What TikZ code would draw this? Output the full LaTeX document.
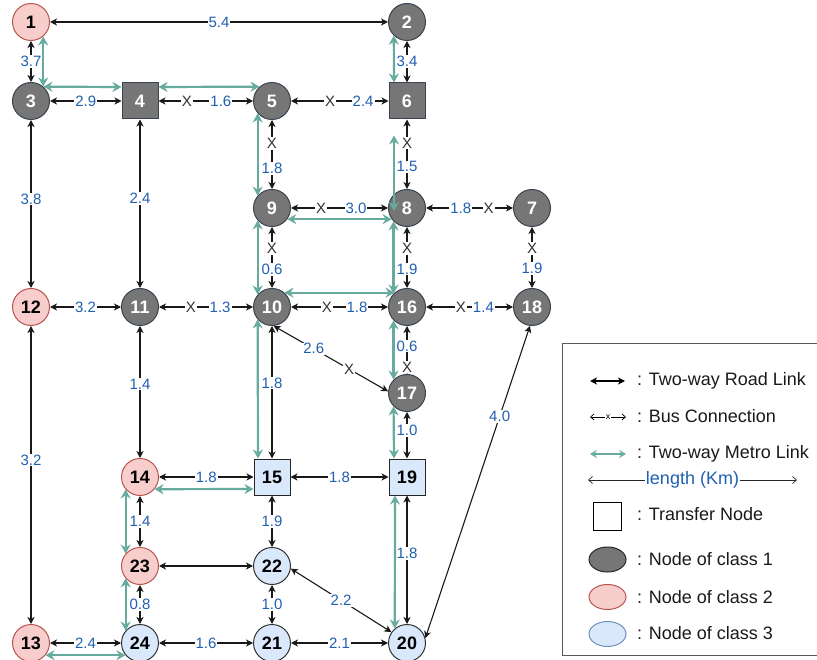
\documentclass[tikz,border=0pt]{standalone}
\usepackage{fontspec}
\setmainfont{Liberation Sans}
\usetikzlibrary{arrows.meta,calc,shapes.geometric}

\definecolor{metrocol}{HTML}{67AB9F}
\definecolor{lenblue}{HTML}{2060B0}
\definecolor{cafill}{HTML}{767676}
\definecolor{cadraw}{HTML}{3A4450}
\definecolor{cbfill}{HTML}{F8CECC}
\definecolor{cbdraw}{HTML}{B85450}
\definecolor{ccfill}{HTML}{DAE8FC}
\definecolor{ccdraw}{HTML}{6C8EBF}

\tikzset{
  nbase/.style={font=\fontsize{18}{18}\selectfont\bfseries, inner sep=0pt, line width=1pt},
  classa/.style={nbase, circle, minimum size=37pt, fill=cafill, draw=cadraw, text=white},
  classasq/.style={nbase, rectangle, minimum size=36pt, fill=cafill, draw=cadraw, text=white},
  classb/.style={nbase, circle, minimum size=37pt, fill=cbfill, draw=cbdraw, text=black},
  classc/.style={nbase, circle, minimum size=37pt, fill=ccfill, draw=black!80, text=black},
  classcsq/.style={nbase, rectangle, minimum size=36pt, fill=ccfill, draw=black!85, text=black},
  road/.style={draw=black!90, line width=1.1pt,
    {Stealth[length=7pt,width=7pt,inset=2pt]}-{Stealth[length=7pt,width=7pt,inset=2pt]}},
  metro/.style={draw=metrocol, line width=2.2pt,
    {Stealth[length=9pt,width=10pt,inset=3pt]}-{Stealth[length=9pt,width=10pt,inset=3pt]}},
  len/.style={font=\fontsize{15}{15}\selectfont, text=lenblue, fill=white, inner sep=1pt},
  xm/.style={font=\fontsize{15}{15}\selectfont, text=black!80, fill=white, inner sep=1pt},
  legtext/.style={font=\fontsize{18}{18}\selectfont, anchor=base west, inner sep=0pt, text=black!90},
}

\begin{document}
\begin{tikzpicture}[x=1pt,y=-1pt]
\useasboundingbox (0,0) rectangle (817,660);
\clip (0,0) rectangle (817,660);

% ---------- nodes ----------
\node[classb]   (n1)  at (31,22)   {1};
\node[classa]   (n2)  at (407,22)  {2};
\node[classa]   (n3)  at (31,101)  {3};
\node[classasq] (n4)  at (140,101) {4};
\node[classa]   (n5)  at (272,101) {5};
\node[classasq] (n6)  at (407,101) {6};
\node[classa]   (n9)  at (272,208) {9};
\node[classa]   (n8)  at (407,208) {8};
\node[classa]   (n7)  at (532,208) {7};
\node[classb]   (n12) at (31,307)  {12};
\node[classa]   (n11) at (140,307) {11};
\node[classa]   (n10) at (272,307) {10};
\node[classa]   (n16) at (407,307) {16};
\node[classa]   (n18) at (532,307) {18};
\node[classa]   (n17) at (407,393) {17};
\node[classb]   (n14) at (140,477) {14};
\node[classcsq] (n15) at (272,477) {15};
\node[classcsq] (n19) at (407,477) {19};
\node[classb]   (n23) at (140,566) {23};
\node[classc]   (n22) at (272,566) {22};
\node[classb]   (n13) at (31,643)  {13};
\node[classc]   (n24) at (140,643) {24};
\node[classc]   (n21) at (272,643) {21};
\node[classc]   (n20) at (407,643) {20};

% ---------- road links ----------
\draw[road] (n1) -- node[len]{5.4} (n2);
\draw[road] (n1) -- node[len]{3.7} (n3);
\draw[road] (n3) -- node[len]{2.9} (n4);
\draw[road] (n2) -- node[len]{3.4} (n6);
\draw[road] (n3) -- node[len,pos=.47]{3.8} (n12);
\draw[road] (n4) -- node[len,pos=.47]{2.4} (n11);
\draw[road] (n12) -- node[len]{3.2} (n11);
\draw[road] (n11) -- node[len,pos=.44]{1.4} (n14);
\draw[road] (n12) -- node[len,pos=.45]{3.2} (n13);
\draw[road] (n10) -- node[len,pos=.43]{1.8} (n15);
\draw[road] (n14) -- node[len]{1.8} (n15);
\draw[road] (n15) -- node[len]{1.8} (n19);
\draw[road] (n17) -- node[len,pos=.4]{1.0} (n19);
\draw[road] (n18.-96) -- node[len,pos=.29]{4.0} (n20.15);
\draw[road] (n15) -- node[len]{1.9} (n22);
\draw[road] (n14) -- node[len]{1.4} (n23);
\draw[road] (n23) -- (n22);
\draw[road] (n22.-8) -- node[len]{2.2} (n20.145);
\draw[road] (n23) -- node[len]{0.8} (n24);
\draw[road] (n22) -- node[len]{1.0} (n21);
\draw[road] (n13) -- node[len]{2.4} (n24);
\draw[road] (n24) -- node[len]{1.6} (n21);
\draw[road] (n21) -- node[len]{2.1} (n20);
\draw[road] (n19) -- node[len,pos=.45]{1.8} (n20);

% ---------- bus connections ----------
\draw[road] (n4) -- node[xm,pos=.30]{X} node[len,pos=.66]{1.6} (n5);
\draw[road] (n5) -- node[xm,pos=.40]{X} node[len,pos=.74]{2.4} (n6);
\draw[road] (n5) -- node[xm,pos=.34]{X} node[len,pos=.70]{1.8} (n9);
\draw[road] (n6) -- node[xm,pos=.34]{X} node[len,pos=.68]{1.5} (n8);
\draw[road] (n9) -- node[xm,pos=.31]{X} node[len,pos=.67]{3.0} (n8);
\draw[road] (n8) -- node[len,pos=.40]{1.8} node[xm,pos=.72]{X} (n7);
\draw[road] (n9) -- node[xm,pos=.35]{X} node[len,pos=.70]{0.6} (n10);
\draw[road] (n8) -- node[xm,pos=.35]{X} node[len,pos=.69]{1.9} (n16);
\draw[road] (n7) -- node[xm,pos=.35]{X} node[len,pos=.68]{1.9} (n18);
\draw[road] (n11) -- node[xm,pos=.34]{X} node[len,pos=.65]{1.3} (n10);
\draw[road] (n10) -- node[xm,pos=.37]{X} node[len,pos=.68]{1.8} (n16);
\draw[road] (n16) -- node[xm,pos=.40]{X} node[len,pos=.66]{1.4} (n18);
\draw[road] (n16) -- node[len,pos=.42]{0.6} node[xm,pos=.86]{X} (n17);
\draw[road] (n10.-85) -- node[len,pos=.35]{2.6} node[xm,pos=.66]{X} (n17.175);

% ---------- metro links ----------
\draw[metro] (n1.-50) -- (n3.50);
\draw[metro] (n3.49) -- ($(n4.west)+(0,-14)$);
\draw[metro] ($(n4.east)+(0,-14)$) -- (n5.131);
\draw[metro] (n2.-134) -- ($(n6.north)+(-13,0)$);
\draw[metro] ($(n6.south)+(-13,16)$) -- ($(n8.center)+(-13,3)$);
\draw[metro] (n5.-139) -- (n9.139);
\draw[metro] (n9.-36) -- (n8.-144);
\draw[metro] (n9.-139) -- (n10.139);
\draw[metro] (n8.-135) -- (n16.135);
\draw[metro] (n10.49) -- (n16.131);
\draw[metro] (n10.-139) -- ($(n15.north)+(-14,0)$);
\draw[metro] (n16.-135) -- (n17.135);
\draw[metro] (n17.-135) -- ($(n19.north)+(-13,0)$);
\draw[metro] (n14.-40) -- ($(n15.west)+(0,12)$);
\draw[metro] (n14.-139) -- (n23.139);
\draw[metro] (n23.-139) -- (n24.139);
\draw[metro] (n13.-40) -- (n24.-140);
\draw[metro] ($(n19.south)+(-12,0)$) -- (n20.130);

% ---------- legend ----------
\draw[line width=1pt, draw=black!65] (562,344) rectangle (830,655);

\draw[line width=1.6pt, {Stealth[length=7pt,width=7pt,inset=2pt]}-{Stealth[length=7pt,width=7pt,inset=2pt]}]
  (590,381) -- (625,381);
\node[legtext] at (637,385.5) {: Two-way Road Link};

\draw[line width=0.7pt, {Straight Barb[length=3.5pt,width=6pt]}-{Straight Barb[length=3.5pt,width=6pt]}]
  (590,417) -- node[fill=white, inner sep=0.5pt, font=\fontsize{9}{9}\selectfont]{x} (626,417);
\node[legtext] at (637,422.5) {: Bus Connection};

\draw[draw=metrocol, line width=2pt, {Stealth[length=7pt,width=8pt,inset=2.5pt]}-{Stealth[length=7pt,width=8pt,inset=2.5pt]}]
  (590,454) -- (626,454);
\node[legtext] at (637,458.5) {: Two-way Metro Link};

\draw[line width=0.7pt, draw=black!85, {Straight Barb[length=4pt,width=7pt]}-{Straight Barb[length=4pt,width=7pt]}]
  (588,480) -- node[fill=white, text=lenblue, inner sep=1pt, font=\fontsize{18}{18}\selectfont]{length (Km)} (797,480);

\draw[line width=1pt, fill=white] (593.5,502) rectangle (621.5,530);
\node[legtext] at (637,520.5) {: Transfer Node};

\node[ellipse, minimum width=37pt, minimum height=25pt, line width=1pt, fill=cafill, draw=black!85] at (607.5,559.5) {};
\node[legtext] at (637,565.5) {: Node of class 1};

\node[ellipse, minimum width=37pt, minimum height=25pt, line width=1pt, fill=cbfill, draw=cbdraw] at (607.5,597) {};
\node[legtext] at (637,603.5) {: Node of class 2};

\node[ellipse, minimum width=37pt, minimum height=25pt, line width=1pt, fill=ccfill, draw=ccdraw] at (607.5,634) {};
\node[legtext] at (637,639.5) {: Node of class 3};

\end{tikzpicture}
\end{document}
